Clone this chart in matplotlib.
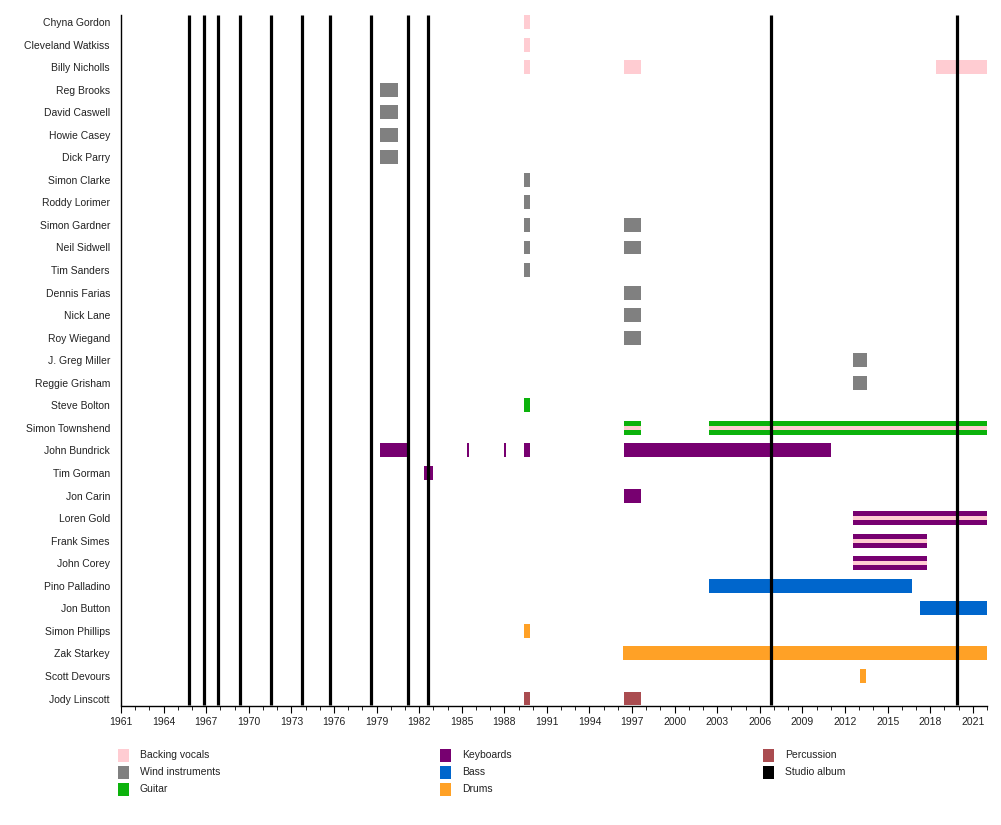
import matplotlib
matplotlib.use("Agg")
import matplotlib.pyplot as plt
from matplotlib.patches import Rectangle

plt.rcParams['font.family'] = ['Liberation Sans', 'DejaVu Sans']

members = ["Chyna Gordon", "Cleveland Watkiss", "Billy Nicholls", "Reg Brooks",
           "David Caswell", "Howie Casey", "Dick Parry", "Simon Clarke",
           "Roddy Lorimer", "Simon Gardner", "Neil Sidwell", "Tim Sanders",
           "Dennis Farias", "Nick Lane", "Roy Wiegand", "J. Greg Miller",
           "Reggie Grisham", "Steve Bolton", "Simon Townshend", "John Bundrick",
           "Tim Gorman", "Jon Carin", "Loren Gold", "Frank Simes", "John Corey",
           "Pino Palladino", "Jon Button", "Simon Phillips", "Zak Starkey",
           "Scott Devours", "Jody Linscott"]

colors = {
    "Backing vocals": "#ffccd2",
    "Wind instruments": "#808080",
    "Guitar": "#0cb20c",
    "Keyboards": "#770070",
    "Bass": "#0066cc",
    "Drums": "#ffa126",
    "Percussion": "#aa4c50",
    "Studio album": "#000000",
}

# (member, role, start, end) in decimal years
spans = [
    ("Chyna Gordon", "Backing vocals", 1989.4, 1989.82),
    ("Cleveland Watkiss", "Backing vocals", 1989.4, 1989.82),
    ("Billy Nicholls", "Backing vocals", 1989.4, 1989.82),
    ("Billy Nicholls", "Backing vocals", 1996.4, 1997.6),
    ("Billy Nicholls", "Backing vocals", 2018.4, 2022.0),
    ("Reg Brooks", "Wind instruments", 1979.25, 1980.5),
    ("David Caswell", "Wind instruments", 1979.25, 1980.5),
    ("Howie Casey", "Wind instruments", 1979.25, 1980.5),
    ("Dick Parry", "Wind instruments", 1979.25, 1980.5),
    ("Simon Clarke", "Wind instruments", 1989.4, 1989.82),
    ("Roddy Lorimer", "Wind instruments", 1989.4, 1989.82),
    ("Simon Gardner", "Wind instruments", 1989.4, 1989.82),
    ("Simon Gardner", "Wind instruments", 1996.4, 1997.6),
    ("Neil Sidwell", "Wind instruments", 1989.4, 1989.82),
    ("Neil Sidwell", "Wind instruments", 1996.4, 1997.6),
    ("Tim Sanders", "Wind instruments", 1989.4, 1989.82),
    ("Dennis Farias", "Wind instruments", 1996.4, 1997.6),
    ("Nick Lane", "Wind instruments", 1996.4, 1997.6),
    ("Roy Wiegand", "Wind instruments", 1996.4, 1997.6),
    ("J. Greg Miller", "Wind instruments", 2012.55, 2013.55),
    ("Reggie Grisham", "Wind instruments", 2012.55, 2013.55),
    ("Steve Bolton", "Guitar", 1989.4, 1989.82),
    ("Simon Townshend", "Guitar", 1996.4, 1997.6),
    ("Simon Townshend", "Guitar", 2002.4, 2022.0),
    ("John Bundrick", "Keyboards", 1979.25, 1981.22),
    ("John Bundrick", "Keyboards", 1985.4, 1985.48),
    ("John Bundrick", "Keyboards", 1988.0, 1988.1),
    ("John Bundrick", "Keyboards", 1989.4, 1989.82),
    ("John Bundrick", "Keyboards", 1996.4, 2011.0),
    ("Tim Gorman", "Keyboards", 1982.35, 1982.97),
    ("Jon Carin", "Keyboards", 1996.4, 1997.6),
    ("Loren Gold", "Keyboards", 2012.55, 2022.0),
    ("Frank Simes", "Keyboards", 2012.55, 2017.76),
    ("John Corey", "Keyboards", 2012.55, 2017.76),
    ("Pino Palladino", "Bass", 2002.4, 2016.75),
    ("Jon Button", "Bass", 2017.25, 2022.0),
    ("Simon Phillips", "Drums", 1989.4, 1989.82),
    ("Zak Starkey", "Drums", 1996.35, 2022.0),
    ("Scott Devours", "Drums", 2013.05, 2013.5),
    ("Jody Linscott", "Percussion", 1989.4, 1989.82),
    ("Jody Linscott", "Percussion", 1996.4, 1997.6),
]

# secondary backing vocals shown as a thin stripe inside the main bar
vocal_stripes = [
    ("Simon Townshend", 1996.4, 1997.6),
    ("Simon Townshend", 2002.4, 2022.0),
    ("Loren Gold", 2012.55, 2022.0),
    ("Frank Simes", 2012.55, 2017.76),
    ("John Corey", 2012.55, 2017.76),
]

albums = [1965.82, 1966.87, 1967.86, 1969.35, 1971.55, 1973.75, 1975.7,
          1978.6, 1981.2, 1982.6, 2006.8, 2019.9]

start_year, end_year = 1961, 2022.0

fig = plt.figure(figsize=(10.01, 8.25), dpi=100)
ax = fig.add_axes([121 / 1001, 1 - 705.5 / 825, 866 / 1001, 690.5 / 825])

row = {m: i for i, m in enumerate(members)}
bar_h = 0.62

for m, role, s, e in spans:
    ax.barh(row[m], e - s, left=s, height=bar_h, color=colors[role], linewidth=0, zorder=2)

for m, s, e in vocal_stripes:
    ax.barh(row[m], e - s, left=s, height=0.19, color=colors["Backing vocals"], linewidth=0, zorder=3)

ax.vlines(albums, -0.31, len(members) - 1 + 0.31, color="black", linewidth=2.3, zorder=4)

ax.set_xlim(start_year, end_year)
ax.set_ylim(len(members) - 1 + 0.31, -0.31)

fs = 7.5
ax.set_yticks(range(len(members)))
ax.set_yticklabels(members, fontsize=fs, color="#222222")
ax.tick_params(axis="y", length=0, pad=8)

ax.set_xticks(range(1961, 2022, 3))
ax.set_xticks(range(1961, 2023), minor=True)
ax.tick_params(axis="x", which="major", length=5, width=0.8, labelsize=fs, pad=3, labelcolor="#222222")
ax.tick_params(axis="x", which="minor", length=3, width=0.6)

for side in ["top", "right"]:
    ax.spines[side].set_visible(False)
ax.spines["left"].set_linewidth(1.0)
ax.spines["bottom"].set_linewidth(1.0)

# legend, three columns
legend_cols = [
    ["Backing vocals", "Wind instruments", "Guitar"],
    ["Keyboards", "Bass", "Drums"],
    ["Percussion", "Studio album"],
]
col_x = [118, 440, 763]
row_y = [755, 772, 789]
for cx, items in zip(col_x, legend_cols):
    for ry, name in zip(row_y, items):
        fig.add_artist(Rectangle((cx / 1001, 1 - (ry + 6.5) / 825), 11 / 1001, 13 / 825,
                                 transform=fig.transFigure, color=colors[name], linewidth=0))
        fig.text((cx + 22) / 1001, 1 - ry / 825, name, fontsize=fs, va="center", ha="left",
                 color="#222222")

fig.savefig("out.png", dpi=100)
